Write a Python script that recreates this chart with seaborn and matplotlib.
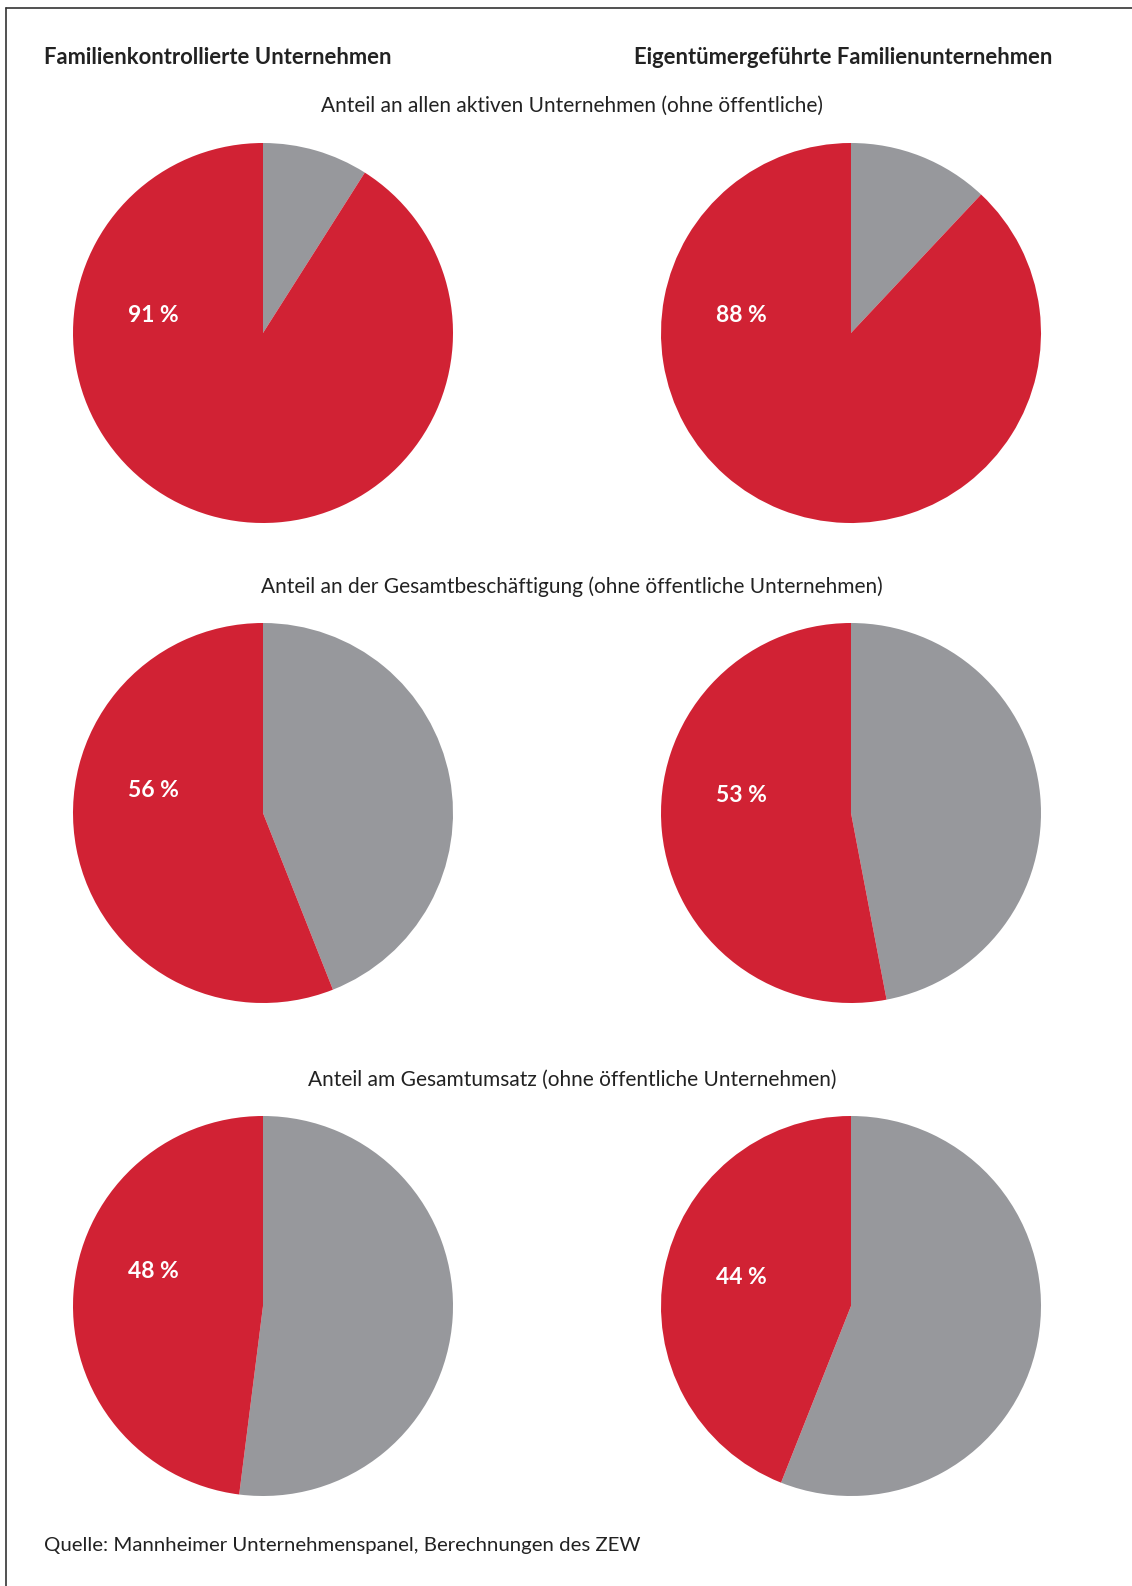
import matplotlib.pyplot as plt
import seaborn as sns
from matplotlib.lines import Line2D

# data: share of family firms (red) vs rest (grey), in percent
columns = ['Familienkontrollierte Unternehmen', 'Eigentümergeführte Familienunternehmen']
row_titles = [
    'Anteil an allen aktiven Unternehmen (ohne öffentliche)',
    'Anteil an der Gesamtbeschäftigung (ohne öffentliche Unternehmen)',
    'Anteil am Gesamtumsatz (ohne öffentliche Unternehmen)',
]
family_controlled = [91, 56, 48]
owner_managed = [88, 53, 44]
source = 'Quelle: Mannheimer Unternehmenspanel, Berechnungen des ZEW'

RED = '#D12234'
GREY = '#97989C'

sns.set_theme(style='white')
plt.rcParams['font.family'] = ['Lato', 'DejaVu Sans']

W, H = 1132, 1586
fig = plt.figure(figsize=(W / 100, H / 100), dpi=100)

# pie layout in pixels (center x, center y), radius
col_x = [263, 851]
row_y = [333, 813, 1306]
radius = 190
label_dy = [[0.09, 0.09], [0.12, 0.09], [0.18, 0.15]]

series = [family_controlled, owner_managed]
for r in range(3):
    for c in range(2):
        cx, cy = col_x[c], row_y[r]
        ax = fig.add_axes([(cx - radius) / W, 1 - (cy + radius) / H, 2 * radius / W, 2 * radius / H])
        share = series[c][r]
        ax.pie([100 - share, share], colors=[GREY, RED], startangle=90, counterclock=False,
               radius=1, wedgeprops=dict(linewidth=0))
        ax.set_xlim(-1, 1)
        ax.set_ylim(-1, 1)
        ax.set_aspect('equal')
        ax.axis('off')
        ax.text(-0.575, label_dy[r][c], f'{share} %', color='white', fontsize=16.5,
                fontweight='bold', ha='center', va='center')

fig.text(44 / W, 1 - 58 / H, columns[0], fontsize=15.8, fontweight='bold',
         color='#222222', ha='left', va='center')
fig.text(1052 / W, 1 - 58 / H, columns[1], fontsize=15.8, fontweight='bold',
         color='#222222', ha='right', va='center')

for y, t in zip([106, 587, 1080], row_titles):
    fig.text(572 / W, 1 - y / H, t, fontsize=15, color='#222222', ha='center', va='center')

fig.text(44 / W, 1 - 1546 / H, source, fontsize=14.7, color='#222222', ha='left', va='center')

# frame lines (top and left only)
fig.add_artist(Line2D([6 / W, 1], [1 - 8 / H, 1 - 8 / H], transform=fig.transFigure,
                      color='#333333', linewidth=1.2))
fig.add_artist(Line2D([6 / W, 6 / W], [1 - 8 / H, 0], transform=fig.transFigure,
                      color='#333333', linewidth=1.2))

fig.savefig('out.png', dpi=100, facecolor='white')
